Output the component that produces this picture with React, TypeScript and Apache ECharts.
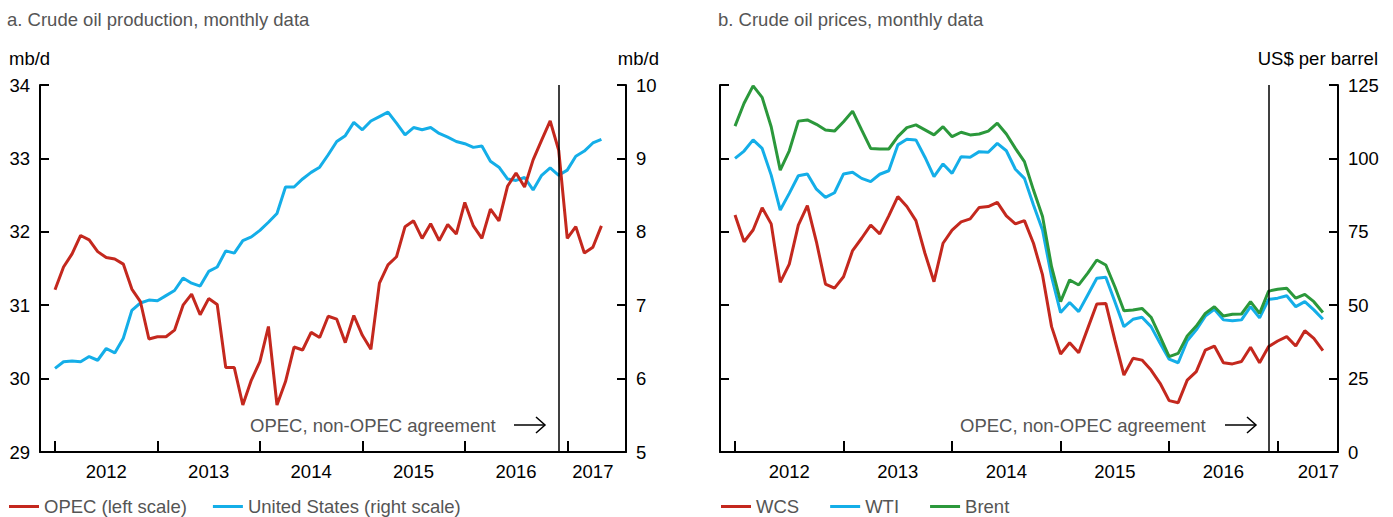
import React, { useEffect, useRef } from "react";
import * as echarts from "echarts";

// Months since Jan 2012 (index 0 = Jan 2012)
const yearTickMonths = [0, 12, 24, 36, 48, 60];
const yearLabelMonthsA = [6, 18, 30, 42, 54, 63];
const yearLabelMonthsB = [6, 18, 30, 42, 54, 64.5];
const agreementMonth = 59;

// Panel a: crude oil production, mb/d (Jan 2012 – May 2017)
const opec = [
  31.21, 31.52, 31.7, 31.95, 31.89, 31.73, 31.65, 31.63, 31.56, 31.22,
  31.05, 30.54, 30.57, 30.57, 30.66, 31.0, 31.15, 30.87, 31.09, 31.01,
  30.15, 30.15, 29.64, 29.98, 30.23, 30.71, 29.64, 29.96, 30.43, 30.39,
  30.63, 30.56, 30.85, 30.81, 30.49, 30.86, 30.59, 30.4, 31.3, 31.55,
  31.66, 32.07, 32.15, 31.91, 32.11, 31.88, 32.1, 31.97, 32.4, 32.08,
  31.91, 32.31, 32.15, 32.62, 32.8, 32.61, 32.98, 33.25, 33.51, 33.11,
  31.91, 32.07, 31.71, 31.79, 32.08,
];
const unitedStates = [
  6.14, 6.23, 6.24, 6.23, 6.3, 6.25, 6.41, 6.35, 6.55, 6.93,
  7.03, 7.07, 7.06, 7.13, 7.2, 7.37, 7.3, 7.26, 7.46, 7.52,
  7.74, 7.71, 7.88, 7.93, 8.02, 8.13, 8.25, 8.61, 8.61, 8.72,
  8.81, 8.88, 9.05, 9.23, 9.31, 9.49, 9.39, 9.51, 9.57, 9.63,
  9.48, 9.32, 9.42, 9.39, 9.42, 9.34, 9.29, 9.23, 9.2, 9.15,
  9.17, 8.96, 8.88, 8.72, 8.7, 8.74, 8.57, 8.77, 8.87, 8.77,
  8.84, 9.03, 9.1, 9.21, 9.26,
];

// Panel b: crude oil prices, US$ per barrel (Jan 2012 – Jun 2017)
const wcs = [
  80.7, 71.6, 75.6, 83.2, 77.7, 57.8, 64.0, 77.3, 83.9, 71.6,
  57.2, 55.8, 59.7, 68.6, 72.8, 77.3, 74.3, 80.4, 87.0, 83.6,
  78.8, 67.7, 58.0, 71.1, 75.6, 78.4, 79.4, 83.3, 83.6, 85.0,
  80.4, 77.7, 78.8, 71.1, 60.3, 42.7, 33.4, 37.2, 33.8, 42.1,
  50.4, 50.6, 38.1, 26.2, 31.9, 31.3, 27.9, 23.4, 17.5, 16.8,
  24.5, 27.4, 34.7, 36.1, 30.4, 30.0, 30.8, 35.7, 30.4, 35.9,
  37.8, 39.3, 36.1, 41.3, 38.7, 34.5,
];
const wti = [
  100.0, 102.5, 106.3, 103.4, 94.3, 82.4, 88.1, 94.1, 94.7, 89.5,
  86.7, 88.3, 94.7, 95.3, 93.2, 92.1, 94.6, 95.8, 104.6, 106.5,
  106.3, 100.4, 93.8, 98.1, 94.9, 100.6, 100.4, 102.3, 102.1, 105.1,
  102.6, 96.3, 93.2, 84.1, 75.6, 59.7, 47.5, 50.9, 47.8, 53.5,
  59.2, 59.5, 51.2, 42.7, 45.2, 45.9, 42.7, 37.0, 31.6, 30.4,
  37.9, 41.6, 46.3, 48.6, 45.0, 44.7, 45.0, 49.5, 45.7, 52.0,
  52.4, 53.2, 49.5, 51.2, 48.4, 45.2,
];
const brent = [
  111.0, 118.8, 124.7, 120.8, 110.8, 96.0, 102.6, 112.7, 113.1, 111.6,
  109.7, 109.3, 112.5, 116.1, 109.7, 103.4, 103.2, 103.2, 107.4, 110.5,
  111.4, 109.7, 108.0, 110.8, 107.4, 108.9, 108.0, 108.3, 109.3, 112.0,
  108.3, 103.4, 98.9, 89.2, 80.2, 63.1, 51.2, 58.6, 56.9, 60.9,
  65.4, 63.7, 56.3, 48.1, 48.4, 48.9, 45.9, 39.3, 32.5, 33.6,
  39.5, 42.9, 47.2, 49.5, 46.3, 46.9, 47.0, 51.2, 47.2, 54.8,
  55.4, 55.8, 52.4, 53.7, 51.2, 47.5,
];

const RED = "#c4281e";
const BLUE = "#14aee8";
const GREEN = "#2b983b";
const GREY = "#555555";
const FONT = "'Liberation Sans', Arial, Helvetica, sans-serif";
const FS = 18.5;

const toPairs = (arr: number[]) => arr.map((v, i) => [i, v]);
const yearFmt = (v: number) => String(2012 + Math.floor(v / 12));

function xAxisFor(gridIndex: number, min: number, max: number, labels: number[]) {
  return {
    type: "value",
    gridIndex,
    min,
    max,
    splitLine: { show: false },
    axisLine: { show: true, onZero: false, lineStyle: { color: "#000", width: 2 } },
    axisTick: {
      show: true,
      inside: true,
      length: 11,
      customValues: yearTickMonths,
      lineStyle: { color: "#000", width: 2 },
    },
    axisLabel: {
      customValues: labels,
      formatter: yearFmt,
      color: "#000",
      fontSize: FS,
      fontFamily: FONT,
      margin: 10,
    },
  };
}

function yAxisFor(
  gridIndex: number,
  position: string,
  min: number,
  max: number,
  interval: number,
  showLabels: boolean
) {
  return {
    type: "value",
    gridIndex,
    position,
    min,
    max,
    interval,
    splitLine: { show: false },
    axisLine: { show: true, onZero: false, lineStyle: { color: "#000", width: 2 } },
    axisTick: { show: true, inside: true, length: 9, lineStyle: { color: "#000", width: 2 } },
    axisLabel: {
      show: showLabels,
      color: "#000",
      fontSize: FS,
      fontFamily: FONT,
      margin: 10,
    },
  };
}

function arrow(x1: number, x2: number, y: number) {
  return {
    type: "group",
    children: [
      { type: "line", shape: { x1, y1: y, x2, y2: y }, style: { stroke: "#000", lineWidth: 1.5 } },
      {
        type: "polyline",
        shape: { points: [[x2 - 9, y - 8], [x2, y], [x2 - 9, y + 8]] },
        style: { stroke: "#000", lineWidth: 1.5, fill: null },
      },
    ],
  };
}

const agreementLine = {
  silent: true,
  symbol: "none",
  label: { show: false },
  lineStyle: { color: "#000", width: 1.5, type: "solid" },
  data: [{ xAxis: agreementMonth }],
};

export default function App() {
  const ref = useRef<HTMLDivElement>(null);

  useEffect(() => {
    if (!ref.current) return;
    const chart = echarts.init(ref.current, undefined, { renderer: "svg" });
    const textStyle = (fill: string) => ({ fill, fontSize: FS, fontFamily: FONT });
    chart.setOption({
      animation: false,
      backgroundColor: "#fff",
      grid: [
        { left: 40, right: 767, top: 85, bottom: 65 },
        { left: 720, right: 55, top: 85, bottom: 65 },
      ],
      xAxis: [
        xAxisFor(0, -1.757, 66.88, yearLabelMonthsA),
        xAxisFor(1, -1.66, 66.67, yearLabelMonthsB),
      ],
      yAxis: [
        yAxisFor(0, "left", 29, 34, 1, true),
        yAxisFor(0, "right", 5, 10, 1, true),
        yAxisFor(1, "left", 0, 125, 25, false),
        yAxisFor(1, "right", 0, 125, 25, true),
      ],
      legend: [
        {
          left: 4,
          top: 492,
          padding: 5,
          icon: "rect",
          itemWidth: 30,
          itemHeight: 3,
          itemGap: 26,
          data: ["OPEC (left scale)", "United States (right scale)"],
          textStyle: { color: GREY, fontSize: FS, fontFamily: FONT },
        },
        {
          left: 716,
          top: 492,
          padding: 5,
          icon: "rect",
          itemWidth: 30,
          itemHeight: 3,
          itemGap: 31,
          data: ["WCS", "WTI", "Brent"],
          textStyle: { color: GREY, fontSize: FS, fontFamily: FONT },
        },
      ],
      series: [
        {
          name: "OPEC (left scale)",
          type: "line",
          xAxisIndex: 0,
          yAxisIndex: 0,
          data: toPairs(opec),
          showSymbol: false,
          color: RED,
          lineStyle: { width: 3, color: RED },
          z: 3,
          markLine: agreementLine,
        },
        {
          name: "United States (right scale)",
          type: "line",
          xAxisIndex: 0,
          yAxisIndex: 1,
          data: toPairs(unitedStates),
          showSymbol: false,
          color: BLUE,
          lineStyle: { width: 3, color: BLUE },
          z: 2,
        },
        {
          name: "WCS",
          type: "line",
          xAxisIndex: 1,
          yAxisIndex: 3,
          data: toPairs(wcs),
          showSymbol: false,
          color: RED,
          lineStyle: { width: 3, color: RED },
          markLine: agreementLine,
        },
        {
          name: "WTI",
          type: "line",
          xAxisIndex: 1,
          yAxisIndex: 3,
          data: toPairs(wti),
          showSymbol: false,
          color: BLUE,
          lineStyle: { width: 3, color: BLUE },
        },
        {
          name: "Brent",
          type: "line",
          xAxisIndex: 1,
          yAxisIndex: 3,
          data: toPairs(brent),
          showSymbol: false,
          color: GREEN,
          lineStyle: { width: 3, color: GREEN },
        },
      ],
      graphic: [
        {
          type: "text",
          x: 7,
          y: 19,
          style: { text: "a. Crude oil production, monthly data", ...textStyle(GREY), textVerticalAlign: "middle" },
        },
        {
          type: "text",
          x: 718,
          y: 19,
          style: { text: "b. Crude oil prices, monthly data", ...textStyle(GREY), textVerticalAlign: "middle" },
        },
        {
          type: "text",
          x: 9,
          y: 58,
          style: { text: "mb/d", ...textStyle("#000"), textVerticalAlign: "middle" },
        },
        {
          type: "text",
          x: 659,
          y: 58,
          style: { text: "mb/d", ...textStyle("#000"), textAlign: "right", textVerticalAlign: "middle" },
        },
        {
          type: "text",
          x: 1378,
          y: 58,
          style: { text: "US$ per barrel", ...textStyle("#000"), textAlign: "right", textVerticalAlign: "middle" },
        },
        {
          type: "text",
          x: 250,
          y: 425,
          style: { text: "OPEC, non-OPEC agreement", ...textStyle(GREY), textVerticalAlign: "middle" },
        },
        arrow(514, 545, 425),
        {
          type: "text",
          x: 960,
          y: 425,
          style: { text: "OPEC, non-OPEC agreement", ...textStyle(GREY), textVerticalAlign: "middle" },
        },
        arrow(1225, 1256, 425),
      ],
    });
    return () => chart.dispose();
  }, []);

  return (
    <div
      ref={ref}
      style={{ position: "fixed", left: 0, top: 0, width: 1393, height: 517, background: "#fff" }}
    />
  );
}
